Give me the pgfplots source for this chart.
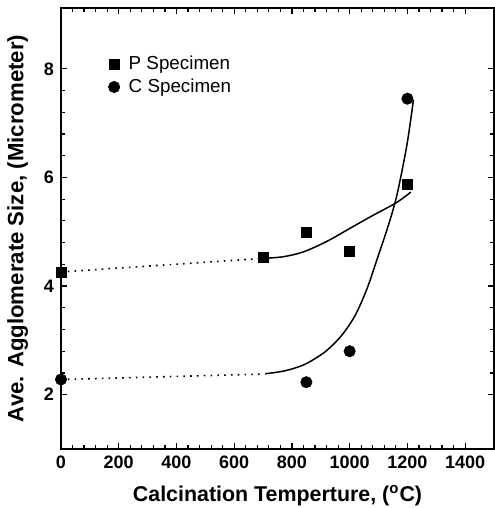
\documentclass[border=0pt]{standalone}
\usepackage{fontspec}
\setmainfont{Liberation Sans}
\usepackage{pgfplots}
\pgfplotsset{compat=1.18}
\begin{document}
\begin{tikzpicture}
\begin{axis}[
  scale only axis,
  width=216.5pt, height=220.5pt,
  xmin=0, xmax=1500, ymin=1, ymax=9.12,
  xtick={0,200,...,1400}, ytick={2,4,6,8},
  minor tick num=4,
  tick align=inside,
  major tick length=3pt, minor tick length=1.8pt,
  axis line style={line width=1pt},
  every tick/.style={black, line width=0.6pt},
  /pgf/number format/assume math mode=true,
  /pgf/number format/1000 sep={},
  tick label style={font=\fontsize{9}{10}\selectfont\bfseries},
  xlabel style={font=\fontsize{10.7}{12}\selectfont\bfseries, yshift=-1.5pt},
  ylabel style={font=\fontsize{11.1}{12}\selectfont\bfseries, yshift=1pt},
  xlabel={Calcination Temperture, (\textsuperscript{o}C)},
  ylabel={Ave. Agglomerate Size, (Micrometer)},
  legend style={draw=none, fill=none, at={(0.095,0.91)}, anchor=north west,
    font=\fontsize{9.4}{10}\selectfont, row sep=-1pt},
  legend cell align=left,
  clip=false,
]
\addplot[only marks, mark=square*, mark size=2.5pt, black]
  coordinates {(0,4.26) (700,4.52) (850,4.98) (1000,4.63) (1200,5.87)};
\addlegendentry{\hspace{2.5pt}P Specimen}
\addplot[only marks, mark=*, mark size=2.8pt, black]
  coordinates {(0,2.28) (850,2.23) (1000,2.8) (1200,7.45)};
\addlegendentry{\hspace{2.5pt}C Specimen}
% P fit
\addplot[black, line width=0.8pt, dash pattern=on 0.8pt off 2.6pt, forget plot]
  coordinates {(0,4.26) (700,4.51)};
\addplot[black, line width=0.75pt, smooth, forget plot]
  coordinates {(700,4.51) (770,4.54) (840,4.63) (920,4.82) (1000,5.06) (1080,5.30) (1160,5.53) (1212,5.73)};
% C fit
\addplot[black, line width=0.8pt, dash pattern=on 0.8pt off 2.6pt, forget plot]
  coordinates {(0,2.28) (705,2.38)};
\addplot[black, line width=0.75pt, smooth, forget plot]
  coordinates {(707,2.385) (776,2.44) (845,2.56) (915,2.79) (972,3.09) (1019,3.46) (1060,3.95) (1094,4.48) (1130,5.05) (1163,5.66) (1198,6.59) (1221,7.43)};
\end{axis}
\pgfresetboundingbox
\path ([shift={(-30.5pt,-29.5pt)}]current axis.south west) rectangle ([shift={(0.5pt,4pt)}]current axis.north east);
\end{tikzpicture}
\end{document}
